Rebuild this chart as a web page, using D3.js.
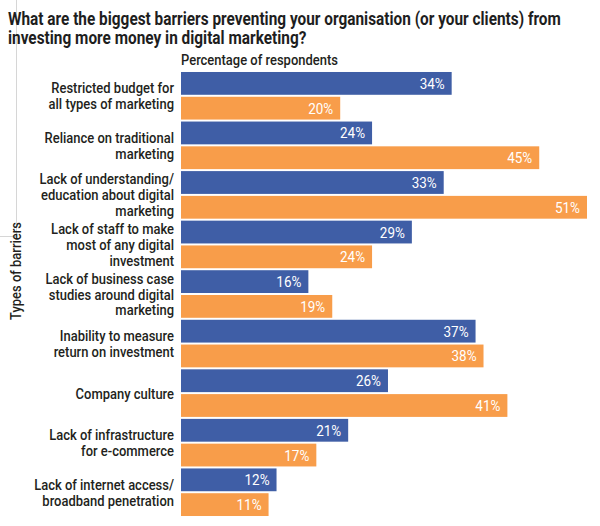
<!DOCTYPE html>
<html>
<head>
<meta charset="utf-8">
<script src="https://cdn.jsdelivr.net/npm/d3@7"></script>
<style>
  html, body { margin: 0; padding: 0; background: #fff; }
  svg { display: block; }
  text { font-family: Roboto, "Liberation Sans", sans-serif; }
</style>
</head>
<body>
<svg id="chart" width="600" height="526"></svg>
<script>
const titleLines = [
  "What are the biggest barriers preventing your organisation (or your clients) from",
  "investing more money in digital marketing?"
];
const subtitle = "Percentage of respondents";
const yAxisTitle = "Types of barriers";
const categories = [
  "Restricted budget for\nall types of marketing",
  "Reliance on traditional\nmarketing",
  "Lack of understanding/\neducation about digital\nmarketing",
  "Lack of staff to make\nmost of any digital\ninvestment",
  "Lack of business case\nstudies around digital\nmarketing",
  "Inability to measure\nreturn on investment",
  "Company culture",
  "Lack of infrastructure\nfor e-commerce",
  "Lack of internet access/\nbroadband penetration"
];
const seriesNames = ["A", "B"];
const seriesA = [34, 24, 33, 29, 16, 37, 26, 21, 12];
const seriesB = [20, 45, 51, 24, 19, 38, 41, 17, 11];
const seriesColors = ["#3f5ea6", "#f89d4a"];

const svg = d3.select("#chart");
const textColor = "#231f20";
const bodyWeight = 500;

// faint frame line seen in the reference
svg.append("path")
  .attr("d", d3.line()([[16.5, 0], [16.5, 236.5], [0, 236.5]]))
  .attr("fill", "none").attr("stroke", "#d6d6d6").attr("stroke-width", 1);

const x = d3.scaleLinear().domain([0, 51]).range([181, 587]);
const y0 = d3.scaleBand().domain(categories).range([71, 517]).padding(0);
const y1 = d3.scaleBand().domain(seriesNames).range([0, y0.bandwidth()])
  .paddingInner(0.08).paddingOuter(0.04);

// measure condensing factors so the font mimics the narrow typeface
const probe = svg.append("text").attr("font-size", 15).attr("font-weight", bodyWeight).text(subtitle);
const fBody = 157 / probe.node().getComputedTextLength();
probe.remove();
const probeT = svg.append("text").attr("font-size", 17.5).attr("font-weight", "bold").text(titleLines[0]);
const fTitle = 553 / probeT.node().getComputedTextLength();
probeT.remove();

function ctext(parent, str, px, py, f, anchor) {
  return parent.append("text")
    .attr("transform", `translate(${px},${py}) scale(${f},1)`)
    .attr("text-anchor", anchor || "start")
    .text(str);
}

// title
titleLines.forEach((ln, i) => {
  ctext(svg, ln, 8, 25 + i * 19, fTitle)
    .attr("font-size", 17.5).attr("font-weight", "bold").attr("fill", "#1e1e1e");
});

ctext(svg, subtitle, 181, 65, fBody).attr("font-size", 15)
  .attr("font-weight", bodyWeight).attr("fill", textColor);

// y axis title
svg.append("text")
  .attr("transform", `translate(21,271) rotate(-90) scale(${fBody},1)`)
  .attr("text-anchor", "middle").attr("font-size", 15)
  .attr("font-weight", bodyWeight).attr("fill", textColor)
  .text(yAxisTitle);

// category axis
const axis = svg.append("g").attr("transform", `translate(${x(0)},0)`)
  .call(d3.axisLeft(y0).tickSize(0).tickPadding(6));
axis.attr("font-family", null).attr("font-size", null);
axis.select(".domain").remove();
axis.selectAll(".tick text").each(function(d) {
  const t = d3.select(this);
  const lines = d.split("\n");
  t.text(null).attr("dy", null).attr("x", null)
    .attr("transform", `scale(${fBody},1)`)
    .attr("font-size", 15).attr("font-weight", bodyWeight).attr("fill", textColor);
  lines.forEach((ln, i) => {
    t.append("tspan").attr("x", -7 / fBody)
      .attr("y", (i - (lines.length - 1) / 2) * 16 + 5.5)
      .text(ln);
  });
});

// bars
const rows = categories.map((c, i) => ({ cat: c, vals: [
  { s: seriesNames[0], v: seriesA[i] },
  { s: seriesNames[1], v: seriesB[i] }
]}));

const groups = svg.append("g").selectAll("g").data(rows).join("g")
  .attr("transform", d => `translate(0,${y0(d.cat)})`);

groups.selectAll("rect").data(d => d.vals).join("rect")
  .attr("x", x(0))
  .attr("y", d => y1(d.s))
  .attr("width", d => x(d.v) - x(0))
  .attr("height", y1.bandwidth())
  .attr("fill", (d, i) => seriesColors[i]);

groups.selectAll("text.val").data(d => d.vals).join("text")
  .attr("class", "val")
  .attr("transform", d => `translate(${x(d.v) - 7},${y1(d.s) + y1.bandwidth() / 2 + 5.5}) scale(${fBody * 1.04},1)`)
  .attr("text-anchor", "end").attr("font-size", 15)
  .attr("font-weight", 400).attr("fill", "#fff")
  .text(d => d.v + "%");
</script>
</body>
</html>
